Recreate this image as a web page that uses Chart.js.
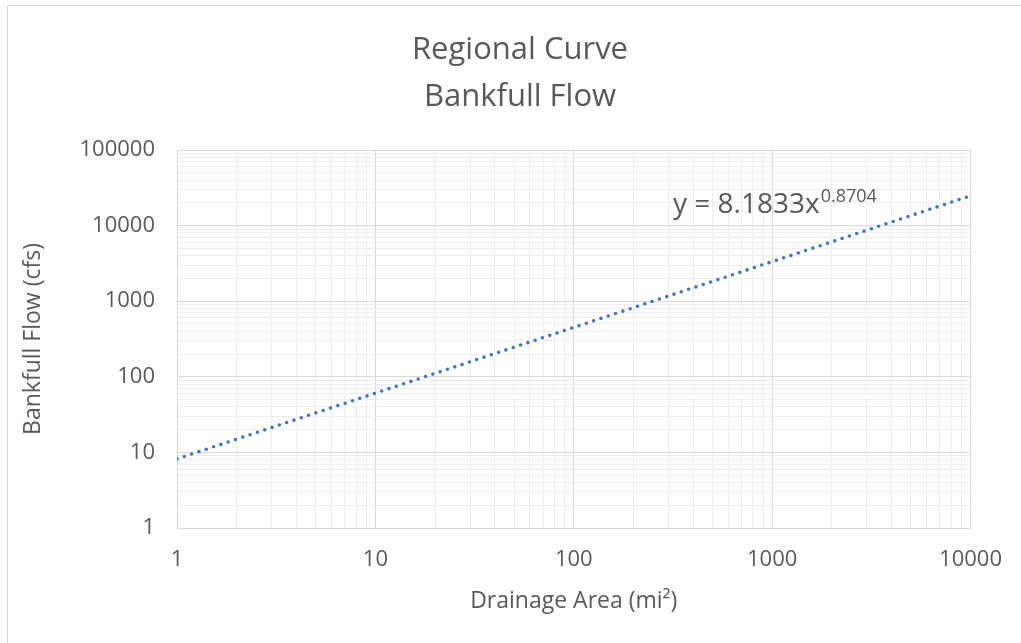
<!DOCTYPE html>
<html>
<head>
<meta charset="utf-8">
<script src="https://cdn.jsdelivr.net/npm/chart.js@4.4.1/dist/chart.umd.min.js"></script>
<style>
  html, body { margin: 0; padding: 0; background: #fff; }
  .wrap { width: 1021px; height: 643px; position: relative; }
</style>
</head>
<body>
<div class="wrap"><canvas id="curveChart"></canvas></div>
<script>
        // values
        const drainageArea = [1, 10, 100, 1000, 10000];
        const bankfullFlow = [8.2, 60.8, 450, 3340, 24800];
        const xTickLabels = [1, 10, 100, 1000, 10000];
        const yTickLabels = [1, 10, 100, 1000, 10000, 100000];
        const titleLines = ['Regional Curve', 'Bankfull Flow'];
        const equationText = 'y = 8.1833x';
        const equationPower = '0.8704';

        const FONT = "'Open Sans', sans-serif";
        const TEXT = '#595959';

        function isDecade(v) {
            const l = Math.log10(v);
            return Math.abs(l - Math.round(l)) < 1e-9;
        }

        // decades plus the 2..9 steps between them, for the light grid
        function logTicks(decades) {
            const out = [];
            for (let i = 0; i < decades.length; i++) {
                out.push({ value: decades[i], major: true });
                if (i < decades.length - 1) {
                    for (let m = 2; m <= 9; m++) out.push({ value: decades[i] * m, major: false });
                }
            }
            return out;
        }

        const gridColor = ctx => (ctx.tick && isDecade(ctx.tick.value)) ? '#d9d9d9' : '#eeeeee';

        const decorPlugin = {
            id: 'decor',
            beforeDraw(chart) {
                const c = chart.ctx;
                c.save();
                c.strokeStyle = '#d9d9d9';
                c.lineWidth = 1;
                c.strokeRect(7.5, 5.5, 1100, 700);
                c.restore();
            },
            afterDraw(chart) {
                const c = chart.ctx;
                c.save();
                c.fillStyle = TEXT;
                c.textAlign = 'center';
                c.textBaseline = 'alphabetic';
                c.font = '31px ' + FONT;
                c.fillText(titleLines[0], 520, 59);
                c.fillText(titleLines[1], 520, 106);

                c.textAlign = 'left';
                c.font = '28px ' + FONT;
                c.fillText(equationText, 673, 213);
                const w = c.measureText(equationText).width;
                c.font = '18px ' + FONT;
                c.fillText(equationPower, 673 + w + 1, 202);
                c.restore();
            }
        };

        const curveChart = new Chart(document.getElementById('curveChart'), {
            type: 'line',
            data: {
                datasets: [{
                    label: 'Power trendline',
                    data: drainageArea.map((x, i) => ({ x: x, y: bankfullFlow[i] })),
                    borderColor: '#4472c4',
                    borderWidth: 3.6,
                    borderDash: [0, 7.7],
                    borderCapStyle: 'round',
                    pointRadius: 0,
                    fill: false,
                    tension: 0
                }]
            },
            options: {
                responsive: true,
                maintainAspectRatio: false,
                animation: false,
                layout: { padding: { left: 0, top: 150, right: 47, bottom: 0 } },
                plugins: {
                    legend: { display: false },
                    tooltip: { enabled: false }
                },
                scales: {
                    x: {
                        type: 'logarithmic',
                        position: 'bottom',
                        min: 1,
                        max: 10000,
                        afterBuildTicks: s => { s.ticks = logTicks(xTickLabels); },
                        afterFit: s => { s.height = 115; },
                        grid: { color: gridColor, drawTicks: false, lineWidth: 1 },
                        border: { color: '#d9d9d9' },
                        ticks: {
                            autoSkip: false,
                            maxRotation: 0,
                            padding: 19,
                            color: TEXT,
                            font: { family: FONT, size: 22 },
                            callback: v => isDecade(v) ? String(Math.round(v)) : ''
                        },
                        title: {
                            display: true,
                            text: 'Drainage Area (mi²)',
                            color: TEXT,
                            font: { family: FONT, size: 23 },
                            padding: { top: 0, bottom: 28 }
                        }
                    },
                    y: {
                        type: 'logarithmic',
                        position: 'left',
                        min: 1,
                        max: 100000,
                        afterBuildTicks: s => { s.ticks = logTicks(yTickLabels); },
                        afterFit: s => { s.width = 177; },
                        grid: { color: gridColor, drawTicks: false, lineWidth: 1 },
                        border: { color: '#d9d9d9' },
                        ticks: {
                            autoSkip: false,
                            padding: 22,
                            color: TEXT,
                            font: { family: FONT, size: 22 },
                            callback: v => isDecade(v) ? String(Math.round(v)) : ''
                        },
                        title: {
                            display: true,
                            text: 'Bankfull Flow (cfs)',
                            color: TEXT,
                            font: { family: FONT, size: 23 },
                            padding: { top: 20, bottom: 0 }
                        }
                    }
                }
            },
            plugins: [decorPlugin]
        });
</script>
</body>
</html>
